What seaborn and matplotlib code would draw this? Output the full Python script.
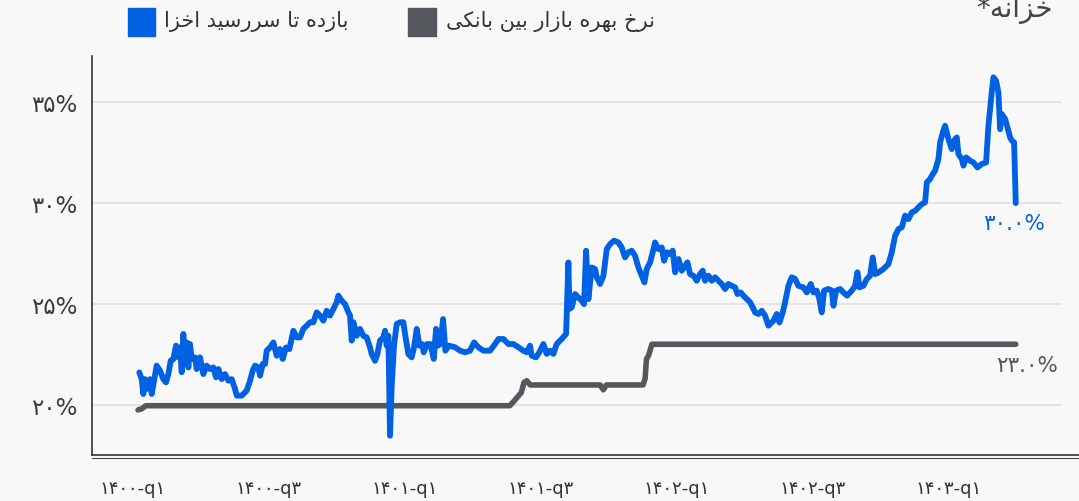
import matplotlib
matplotlib.use("Agg")
import matplotlib.pyplot as plt
from matplotlib.patches import Rectangle
from matplotlib.lines import Line2D
import seaborn as sns
import pandas as pd

# time axis in quarters since 1400-q1
t_yield = [0.093, 0.127, 0.152, 0.176, 0.201, 0.25, 0.275, 0.348, 0.397, 0.446, 0.485, 0.52, 0.554, 0.593,
           0.632, 0.667, 0.691, 0.716, 0.74, 0.765, 0.789, 0.814, 0.838, 0.863, 0.912, 0.936, 0.985, 1.034,
           1.083, 1.132, 1.181, 1.221, 1.255, 1.304, 1.353, 1.402, 1.451, 1.50, 1.525, 1.598, 1.672, 1.721,
           1.76, 1.794, 1.843, 1.868, 1.907, 1.941, 1.966, 2.015, 2.064, 2.113, 2.162, 2.201, 2.25, 2.299,
           2.358, 2.407, 2.456, 2.505, 2.554, 2.603, 2.652, 2.701, 2.75, 2.799, 2.848, 2.897, 2.946, 2.995,
           3.02, 3.069, 3.118, 3.167, 3.191, 3.216, 3.24, 3.289, 3.338, 3.387, 3.436, 3.485, 3.51, 3.559,
           3.593, 3.632, 3.681, 3.706, 3.73, 3.755, 3.779, 3.804, 3.838, 3.877, 3.926, 3.975, 4.0, 4.049,
           4.098, 4.132, 4.172, 4.211, 4.25, 4.275, 4.324, 4.373, 4.422, 4.456, 4.48, 4.52, 4.559, 4.593,
           4.642, 4.735, 4.809, 4.882, 4.956, 5.015, 5.078, 5.152, 5.25, 5.324, 5.373, 5.446, 5.52, 5.593,
           5.667, 5.74, 5.789, 5.838, 5.863, 5.926, 5.975, 6.034, 6.083, 6.132, 6.181, 6.23, 6.304, 6.368,
           6.402, 6.417, 6.451, 6.5, 6.549, 6.598, 6.632, 6.662, 6.696, 6.745, 6.794, 6.819, 6.868, 6.917,
           6.966, 7.015, 7.074, 7.137, 7.186, 7.235, 7.284, 7.333, 7.382, 7.431, 7.48, 7.52, 7.554, 7.603,
           7.642, 7.676, 7.725, 7.775, 7.809, 7.848, 7.897, 7.936, 7.971, 8.02, 8.069, 8.118, 8.152, 8.191,
           8.24, 8.289, 8.338, 8.377, 8.412, 8.461, 8.51, 8.559, 8.608, 8.657, 8.706, 8.755, 8.804, 8.853,
           8.887, 8.936, 8.975, 9.025, 9.074, 9.113, 9.147, 9.196, 9.245, 9.294, 9.343, 9.417, 9.466, 9.505,
           9.554, 9.588, 9.637, 9.686, 9.735, 9.784, 9.858, 9.907, 9.966, 10.005, 10.054, 10.093, 10.127,
           10.162, 10.225, 10.275, 10.299, 10.338, 10.397, 10.446, 10.5, 10.569, 10.618, 10.652, 10.681,
           10.74, 10.789, 10.838, 10.877, 10.912, 10.961, 11.034, 11.108, 11.157, 11.206, 11.255, 11.304,
           11.353, 11.402, 11.451, 11.5, 11.549, 11.598, 11.647, 11.672, 11.721, 11.745, 11.794, 11.843,
           11.868, 11.907, 11.941, 11.99, 12.039, 12.074, 12.113, 12.137, 12.186, 12.211, 12.25, 12.309,
           12.358, 12.417, 12.48, 12.544, 12.578, 12.627, 12.652, 12.691, 12.725, 12.75, 12.775, 12.824,
           12.858, 12.897, 12.922, 12.956, 12.98]
yield_pct = [21.60, 21.27, 20.53, 21.27, 20.78, 21.27, 20.53, 21.94, 21.69, 21.27, 21.11, 21.52, 22.18, 22.26,
             22.93, 22.35, 22.85, 21.61, 23.51, 22.10, 23.09, 21.85, 23.01, 22.27, 22.35, 21.77, 22.35, 21.52,
             21.94, 21.77, 21.85, 21.36, 21.77, 21.27, 21.52, 21.19, 21.27, 20.78, 20.45, 20.45, 20.70, 21.19,
             21.69, 21.94, 21.85, 21.44, 22.02, 22.02, 22.68, 22.84, 23.09, 22.43, 22.76, 22.27, 22.84, 22.76,
             23.67, 23.34, 23.34, 23.76, 23.92, 24.09, 24.09, 24.58, 24.42, 24.17, 24.66, 24.42, 24.75, 25.08,
             25.41, 25.16, 24.99, 24.58, 24.42, 23.18, 24.09, 23.42, 23.76, 23.42, 23.34, 22.84, 22.51, 22.18,
             22.51, 23.18, 23.34, 23.67, 22.93, 23.42, 18.46, 20.94, 22.93, 24.00, 24.09, 24.09, 23.51, 22.51,
             22.35, 22.84, 23.76, 22.93, 23.01, 22.60, 23.01, 23.01, 22.27, 23.76, 22.93, 23.01, 24.25, 22.68,
             22.93, 22.85, 22.68, 22.60, 22.68, 23.09, 22.85, 22.68, 22.68, 23.01, 23.26, 23.26, 23.01, 23.01,
             22.85, 22.68, 22.60, 22.93, 22.43, 22.35, 22.60, 23.01, 22.52, 22.68, 22.52, 23.01, 23.26, 23.51,
             27.06, 24.75, 24.83, 25.49, 25.32, 25.16, 24.99, 27.64, 25.24, 26.81, 26.73, 26.32, 25.99, 26.40,
             27.72, 27.97, 28.14, 28.05, 27.80, 27.31, 27.56, 27.64, 27.39, 26.81, 26.40, 26.07, 26.73, 27.06,
             27.56, 28.05, 27.72, 27.80, 27.14, 27.56, 27.47, 27.64, 26.57, 27.23, 26.65, 26.89, 27.06, 26.48,
             26.40, 26.15, 26.48, 26.65, 26.15, 26.40, 26.15, 26.32, 26.15, 25.99, 25.74, 25.99, 25.90, 25.82,
             25.49, 25.57, 25.41, 25.24, 25.08, 24.83, 24.58, 24.50, 24.66, 24.42, 23.92, 24.17, 24.50, 24.08,
             24.58, 25.08, 25.90, 26.32, 26.24, 25.90, 25.82, 25.57, 25.99, 25.57, 25.66, 25.24, 24.58,
             25.66, 25.74, 25.66, 24.91, 25.66, 25.74, 25.57, 25.41, 25.66, 25.90, 26.57, 25.82,
             25.90, 26.23, 26.40, 27.31, 26.48, 26.56, 26.73, 26.98, 27.56, 28.38, 28.71, 28.80,
             29.38, 29.21, 29.54, 29.62, 29.79, 29.95, 30.04, 31.03, 31.20, 31.36, 31.61, 32.19,
             33.01, 33.51, 33.84, 33.18, 32.68, 33.10, 33.26, 32.43, 32.19, 31.86, 32.27, 32.10,
             32.02, 31.77, 31.94, 32.02, 33.84, 35.49, 36.24, 36.07, 35.49, 33.67, 34.42, 34.17,
             33.76, 33.26, 33.10, 33.01, 30.0]

t_rate = [0.074, 0.13, 0.19, 5.54, 5.59, 5.65, 5.71, 5.75, 5.79, 5.84, 6.87, 6.916, 6.96, 7.50, 7.53,
          7.55, 7.58, 7.63, 12.98]
rate_pct = [19.74, 19.80, 19.95, 19.95, 20.13, 20.37, 20.61, 21.11, 21.19, 20.98, 20.98, 20.74, 20.98,
            20.98, 21.30, 22.27, 22.43, 23.0, 23.0]

y_ticks = [20, 25, 30, 35]
y_tick_labels = ["۲۰%", "۲۵%", "۳۰%", "۳۵%"]
x_ticks = list(range(14))
x_tick_labels = ["۱۴۰۰-q۱", "", "۱۴۰۰-q۳", "", "۱۴۰۱-q۱", "", "۱۴۰۱-q۳", "",
                 "۱۴۰۲-q۱", "", "۱۴۰۲-q۳", "", "۱۴۰۳-q۱", ""]

label_yield = "بازده تا سررسید اخزا"
label_rate = "نرخ بهره بازار بین بانکی"
title_tail = "خزانه*"

BLUE = "#0062e3"
GRAY = "#54585c"
BG = "#f8f8f8"

# matplotlib has no arabic shaping, so pick presentation forms by hand
FORMS = {
    "ا": ("\ufe8d", "\ufe8e", None, None),
    "ب": ("\ufe8f", "\ufe90", "\ufe91", "\ufe92"),
    "ت": ("\ufe95", "\ufe96", "\ufe97", "\ufe98"),
    "خ": ("\ufea5", "\ufea6", "\ufea7", "\ufea8"),
    "د": ("\ufea9", "\ufeaa", None, None),
    "ر": ("\ufead", "\ufeae", None, None),
    "ز": ("\ufeaf", "\ufeb0", None, None),
    "س": ("\ufeb1", "\ufeb2", "\ufeb3", "\ufeb4"),
    "ن": ("\ufee5", "\ufee6", "\ufee7", "\ufee8"),
    "ه": ("\ufee9", "\ufeea", "\ufeeb", "\ufeec"),
    "ی": ("\ufeef", "\ufef0", "\ufef3", "\ufef4"),
    "ک": ("\ufb8e", "\ufb8f", "\ufb90", "\ufb91"),
}


def shape(s):
    out = []
    for i, ch in enumerate(s):
        if ch not in FORMS:
            out.append(ch)
            continue
        iso, fin, ini, med = FORMS[ch]
        prev = s[i - 1] if i > 0 else ""
        nxt = s[i + 1] if i + 1 < len(s) else ""
        pj = prev in FORMS and FORMS[prev][2] is not None
        nj = nxt in FORMS and ini is not None
        if pj and nj:
            out.append(med)
        elif pj:
            out.append(fin)
        elif nj:
            out.append(ini)
        else:
            out.append(iso)
    return "".join(out)[::-1]


sns.set_style("white")
plt.rcParams["font.family"] = ["DejaVu Sans"]

df_yield = pd.DataFrame({"t": t_yield, "v": yield_pct})
df_rate = pd.DataFrame({"t": t_rate, "v": rate_pct})

fig = plt.figure(figsize=(10.79, 5.02), dpi=100, facecolor=BG)
ax = fig.add_axes([92 / 1079, 1 - 456 / 502, 987 / 1079, 399 / 502])
ax.set_facecolor(BG)

ax.set_xlim(-0.603, 13.91)
ax.set_ylim(17.505, 37.30)
ax.hlines(y_ticks, -0.603, 13.662, color="#e4e4e4", lw=1.5, zorder=0)

sns.lineplot(data=df_rate, x="t", y="v", color=GRAY, lw=4.0, estimator=None, ax=ax,
             solid_capstyle="round", solid_joinstyle="round")
sns.lineplot(data=df_yield, x="t", y="v", color=BLUE, lw=4.2, estimator=None, ax=ax,
             solid_capstyle="round", solid_joinstyle="round")

for s in ["top", "right"]:
    ax.spines[s].set_visible(False)
for s in ["left", "bottom"]:
    ax.spines[s].set_color("#333333")
    ax.spines[s].set_linewidth(1.2)

ax.set_yticks(y_ticks)
ax.set_yticklabels(y_tick_labels)
ax.set_xticks(x_ticks)
ax.set_xticklabels(x_tick_labels)
ax.tick_params(axis="y", length=7.2, width=1.5, color="#333333", labelsize=16.5, labelcolor="#3a3a3a", pad=3)
ax.tick_params(axis="x", length=6, width=1, color="#333333", labelsize=13, labelcolor="#333333", pad=11)
ax.set_xlabel("")
ax.set_ylabel("")

fig.add_artist(Line2D([92 / 1079, 1], [1 - 459 / 502] * 2, color="#444444", lw=0.8))

ax.annotate("۳۰.۰%", (t_yield[-1], yield_pct[-1]), xytext=(-2, -20), textcoords="offset pixels",
            ha="center", va="center", fontsize=15.5, color=BLUE)
ax.annotate("۲۳.۰%", (t_rate[-1], rate_pct[-1]), xytext=(11, -21), textcoords="offset pixels",
            ha="center", va="center", fontsize=15.5, color=GRAY)

fig.add_artist(Rectangle((128 / 1079, 1 - 37 / 502), 27 / 1079, 28 / 502, color=BLUE,
                         transform=fig.transFigure))
fig.add_artist(Rectangle((408 / 1079, 1 - 37 / 502), 28 / 1079, 28 / 502, color=GRAY,
                         transform=fig.transFigure))
fig.text(164 / 1079, 1 - 22 / 502, shape(label_yield), ha="left", va="center", fontsize=15, color="#333333")
fig.text(446 / 1079, 1 - 22 / 502, shape(label_rate), ha="left", va="center", fontsize=15, color="#333333")
fig.text(1053 / 1079, 1 - 17 / 502, shape(title_tail), ha="right", va="baseline", fontsize=20, color="#444444")

fig.savefig("out.png", dpi=100, facecolor=BG)
